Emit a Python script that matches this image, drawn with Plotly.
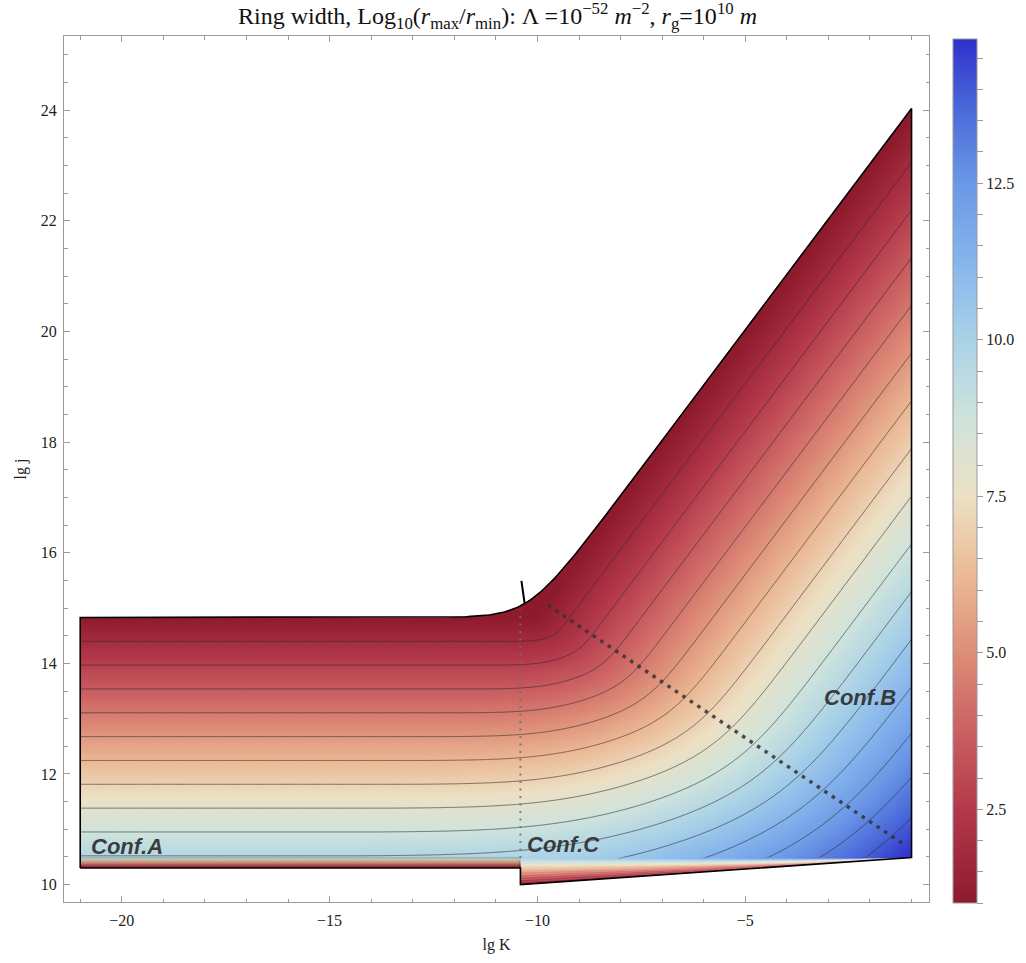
import numpy as np
import plotly.graph_objects as go

# ---------------- values ----------------
lgK_span = [-21.0, -1.0]            # left / right edge of the region
plateau_lgj = 14.83                 # flat top edge (Conf.A side)
slant_offset = 25.03                # slanted top edge: lg j = lg K + offset
top_blend = 1.0                     # roundness of the top corner
bottom_left_lgj = 10.30             # flat bottom edge left of the step
step_lgK = -10.41                   # position of the step / Conf.A-C divider
bottom_right_lgj = [10.00, 10.49]   # wedge bottom edge at the step and at lg K = -1
band_top_lgj = [10.50, 10.47]       # top of thin bottom band: left part / wedge part

value_floor = 1.0                   # ring width on the top edge
slope_A = 2.0                       # Conf.A: width grows 2 per unit of lg j below plateau
offset_B = 24.92                    # Conf.B: width = floor + lgK + offset_B - lgj
mix_C = [0.5, 0.68]                 # Conf.C: weights of the B and A parts
blend_q = 12                        # sharpness of the regime blending

colour_range = [1.0, 14.8]
contour_levels = [1.8625, 13.95, 0.8625]     # start, end, step of the contour lines
colour_values = [1.0, 2.5, 3.75, 5.0, 6.25, 7.5, 8.75, 10.0, 11.25, 12.5, 13.7, 14.8]
colour_hex = ['#8e1a2e', '#b3394a', '#cb6062', '#dd8d78', '#ebba96', '#ece0c4',
              '#cfe3dc', '#a9d2e7', '#86b5ec', '#6a97e6', '#4a69d9', '#2f30cc']
colourbar_first_label, colourbar_label_step, colourbar_minor_step = 2.5, 5, 0.5

vertical_dots = [[step_lgK, step_lgK], [10.48, 14.97]]
diagonal_dots = [[-9.745, -1.21], [15.05, 10.74]]
corner_tick = [[-10.385, -10.305], [15.49, 15.06]]

labels = ['Conf.A', 'Conf.C', 'Conf.B']
label_lgK = [-19.88, -9.37, -2.25]
label_lgj = [10.69, 10.73, 13.39]

title = ('Ring width, Log<sub>10</sub>(<i>r</i><sub>max</sub>/<i>r</i><sub>min</sub>): '
         'Λ =10<sup>−52</sup> <i>m</i><sup>−2</sup>, <i>r</i><sub>g</sub>=10<sup>10</sup> <i>m</i>')


# ---------------- field ----------------
def main_field(X, Y):
    FA = slope_A * np.clip(plateau_lgj - Y, 0, None)
    FB = np.clip(X + offset_B - Y, 0, None)
    FC = mix_C[0] * FB + mix_C[1] * FA
    q = blend_q
    return value_floor + (FA ** q + FB ** q + FC ** q) ** (1.0 / q)


def band_bottom(x):
    frac = (x - step_lgK) / (lgK_span[1] - step_lgK)
    return np.where(x < step_lgK, bottom_left_lgj,
                    bottom_right_lgj[0] + (bottom_right_lgj[1] - bottom_right_lgj[0]) * frac)


def band_top(x):
    return np.where(x < step_lgK, band_top_lgj[0], band_top_lgj[1])


def full_field(X, Y):
    yt = band_top(X)
    yb = band_bottom(X)
    top_val = main_field(X, yt)
    s = np.clip((Y - yb) / np.maximum(yt - yb, 1e-6), 0, 1)
    band = value_floor + (top_val - value_floor) * s
    return np.where(Y < yt, band, main_field(X, Y))


def upper_edge(x):
    return np.log10(10 ** (top_blend * plateau_lgj) +
                    10 ** (top_blend * (x + slant_offset))) / top_blend


xg = np.linspace(lgK_span[0], lgK_span[1], 401)
y_heat = np.concatenate([np.arange(9.95, 10.52, 0.01), np.arange(10.52, 25.42, 0.04)])
y_main = np.arange(band_top_lgj[1], 25.42, 0.04)
y_band = np.arange(9.95, 10.506, 0.005)

Xh, Yh = np.meshgrid(xg, y_heat)
Z_heat = full_field(Xh, Yh).astype(np.float32)
Xm, Ym = np.meshgrid(xg, y_main)
Z_main = main_field(Xm, Ym).astype(np.float32)

x_left = xg[xg < step_lgK + 0.03]
x_right = xg[xg > step_lgK - 0.03]

span = colour_range[1] - colour_range[0]
colorscale = [[(v - colour_range[0]) / span, c] for v, c in zip(colour_values, colour_hex)]

serif = 'Liberation Serif'
fig = go.Figure()

fig.add_trace(go.Heatmap(
    x=xg, y=y_heat, z=Z_heat, colorscale=colorscale,
    zmin=colour_range[0], zmax=colour_range[1], zsmooth='best', hoverinfo='skip',
    colorbar=dict(thickness=24, thicknessmode='pixels', len=864 / 866, lenmode='fraction',
                  x=1.0268, xanchor='left', y=-0.0015, yanchor='bottom', xpad=0, ypad=0,
                  outlinewidth=1, outlinecolor='#9a9a9a',
                  tickmode='linear', tick0=colourbar_first_label, dtick=colourbar_minor_step,
                  ticklabelstep=colourbar_label_step, tickformat='.1f',
                  ticks='outside', ticklen=6, tickcolor='#9a9a9a',
                  tickfont=dict(family=serif, size=16, color='#222'))))

levels = dict(start=contour_levels[0], end=contour_levels[1], size=contour_levels[2],
              coloring='none')
fig.add_trace(go.Contour(
    x=xg, y=y_main, z=Z_main, autocontour=False, showscale=False, hoverinfo='skip',
    contours=levels, line=dict(color='rgba(45,45,45,0.62)', width=1.0, smoothing=0)))

for xb, col in [(x_left, 'rgba(60,50,50,0.35)'), (x_right, 'rgba(255,255,255,0.3)')]:
    Xb, Yb = np.meshgrid(xb, y_band)
    Zb = full_field(Xb, Yb).astype(np.float32)
    fig.add_trace(go.Contour(
        x=xb, y=y_band, z=Zb, autocontour=False, showscale=False, hoverinfo='skip',
        contours=levels, line=dict(color=col, width=0.6, smoothing=0)))

# white masks outside the region (overlapping, so no seams)
xs = np.linspace(lgK_span[0], lgK_span[1], 400)
ys = upper_edge(xs)
m1x = [-21.3, -21.3, -0.7, -0.7] + list(xs[::-1]) + [lgK_span[0], lgK_span[0]]
m1y = [9.6, 25.6, 25.6, ys[-1]] + list(ys[::-1]) + [bottom_left_lgj, 9.6]
m2x = [-21.3, -21.3, step_lgK, step_lgK, lgK_span[1], lgK_span[1], -0.7, -0.7]
m2y = [9.6, bottom_left_lgj, bottom_left_lgj, bottom_right_lgj[0], bottom_right_lgj[1],
       25.6, 25.6, 9.6]
for mx, my in [(m1x, m1y), (m2x, m2y)]:
    fig.add_trace(go.Scatter(x=mx, y=my, mode='lines', fill='toself', fillcolor='white',
                             line=dict(width=0, color='white'), hoverinfo='skip', showlegend=False))

# outline
ox = [lgK_span[0]] + list(xs) + [lgK_span[1], step_lgK, step_lgK, lgK_span[0]]
oy = [bottom_left_lgj] + list(ys) + [bottom_right_lgj[1], bottom_right_lgj[0], bottom_left_lgj,
                                      bottom_left_lgj]
fig.add_trace(go.Scatter(x=ox, y=oy, mode='lines', line=dict(color='black', width=1.6),
                         hoverinfo='skip', showlegend=False))

fig.add_trace(go.Scatter(x=vertical_dots[0], y=vertical_dots[1], mode='lines',
                         line=dict(color='rgba(110,110,110,0.85)', width=2, dash='2px,5.5px'),
                         hoverinfo='skip', showlegend=False))
fig.add_trace(go.Scatter(x=diagonal_dots[0], y=diagonal_dots[1], mode='lines',
                         line=dict(color='rgba(50,50,50,0.85)', width=3.5, dash='3.5px,5.5px'),
                         hoverinfo='skip', showlegend=False))
fig.add_trace(go.Scatter(x=corner_tick[0], y=corner_tick[1], mode='lines',
                         line=dict(color='black', width=2), hoverinfo='skip', showlegend=False))

for t, lx, ly in zip(labels, label_lgK, label_lgj):
    fig.add_annotation(x=lx, y=ly, xref='x', yref='y', text=t, showarrow=False,
                       font=dict(family='Liberation Sans', size=22, color='rgba(45,45,45,0.92)',
                                 weight='bold', style='italic'))

axis_common = dict(showline=True, linecolor='#9a9a9a', linewidth=1, mirror='allticks',
                   ticks='inside', ticklen=6, tickcolor='#9a9a9a', showgrid=False, zeroline=False,
                   tickfont=dict(family=serif, size=16, color='#222'))
fig.update_xaxes(range=[-21.39, -0.58], tickvals=[-20, -15, -10, -5],
                 minor=dict(dtick=1, tick0=0, ticks='inside', ticklen=3.5, tickcolor='#9a9a9a'),
                 title=dict(text='lg K', font=dict(family=serif, size=16, color='#222'), standoff=10),
                 ticklabelstandoff=4, **axis_common)
fig.update_yaxes(range=[9.686, 25.34], tickvals=list(range(10, 25, 2)),
                 minor=dict(dtick=0.5, tick0=0, ticks='inside', ticklen=3.5, tickcolor='#9a9a9a'),
                 title=dict(text='lg j', font=dict(family=serif, size=16, color='#222'), standoff=10),
                 ticklabelstandoff=3, **axis_common)

fig.update_layout(
    width=1026, height=963, margin=dict(l=64, r=96, t=36, b=61),
    paper_bgcolor='white', plot_bgcolor='white', showlegend=False,
    title=dict(text=title, x=497.5 / 1026, xanchor='center', y=1 - 16 / 963,
               yanchor='middle', yref='container', font=dict(family=serif, size=24, color='#111')))

fig.write_html('out.html', config={'displayModeBar': False},
               post_script="document.body.style.margin='0px';")
